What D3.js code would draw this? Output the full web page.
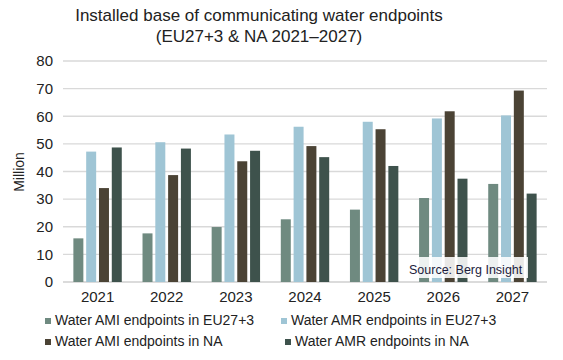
<!DOCTYPE html>
<html><head><meta charset="utf-8">
<script src="https://cdn.jsdelivr.net/npm/d3@7"></script>
<style>body{margin:0;background:#fff}svg{display:block}</style>
</head><body>
<svg id="c" width="563" height="360"></svg>
<script>
const years = ["2021","2022","2023","2024","2025","2026","2027"];
const seriesNames = ["Water AMI endpoints in EU27+3","Water AMR endpoints in EU27+3","Water AMI endpoints in NA","Water AMR endpoints in NA"];
const amiEU = [15.8, 17.6, 19.9, 22.7, 26.2, 30.4, 35.5];
const amrEU = [47.2, 50.6, 53.4, 56.2, 58.0, 59.2, 60.3];
const amiNA = [34.0, 38.7, 43.7, 49.2, 55.3, 61.8, 69.3];
const amrNA = [48.7, 48.3, 47.5, 45.2, 42.0, 37.4, 32.0];
const yTicks = [0,10,20,30,40,50,60,70,80];
const colors = ["#6f8a80","#9fc5d5","#4b4335","#3e524c"];
const seriesData = [amiEU, amrEU, amiNA, amrNA];

const font = "'Liberation Sans', Arial, sans-serif";
const svg = d3.select("#c");
const m = {l:63, r:547, t:61, b:282};
const x = d3.scaleBand().domain(years).range([m.l, m.r]).paddingInner(0.3).paddingOuter(0.15);
const xs = d3.scaleBand().domain(d3.range(4)).range([0, x.bandwidth()]).paddingInner(0.22);
const y = d3.scaleLinear().domain([0,80]).range([m.b, m.t]);

// title
const title = svg.append("text").attr("x", 259).attr("text-anchor","middle")
  .attr("font-family", font).attr("font-size", 17).attr("fill","#222");
title.append("tspan").attr("x",259).attr("y",21).text("Installed base of communicating water endpoints");
title.append("tspan").attr("x",259).attr("y",42).text("(EU27+3 & NA 2021\u20132027)");

// grid
svg.append("g").selectAll("line").data(yTicks).join("line")
  .attr("x1", m.l).attr("x2", m.r).attr("y1", d=>y(d)).attr("y2", d=>y(d))
  .attr("stroke", d=> d===0 ? "#cfcfcf" : "#d9d9d9").attr("stroke-width", 1.3);

// y axis labels
const ya = svg.append("g").attr("transform",`translate(${m.l-10},0)`)
  .call(d3.axisLeft(y).tickValues(yTicks).tickSize(0).tickPadding(0));
ya.select(".domain").remove();
ya.selectAll("text").attr("font-family", font).attr("font-size", 15).attr("fill","#222");

svg.append("text").attr("transform", "translate(24,172) rotate(-90)")
  .attr("text-anchor","middle").attr("font-family", font).attr("font-size", 14).attr("fill","#222").text("Million");

// bars
const g = svg.append("g");
seriesData.forEach((arr, si) => {
  g.append("g").selectAll("rect").data(arr).join("rect")
    .attr("x", (d,i)=> x(years[i]) + xs(si))
    .attr("width", xs.bandwidth())
    .attr("y", d=>y(d)).attr("height", d=> y(0)-y(d))
    .attr("fill", colors[si]);
});

// x axis labels
const xa = svg.append("g").attr("transform",`translate(0,${m.b+6})`)
  .call(d3.axisBottom(x).tickSize(0).tickPadding(0));
xa.select(".domain").remove();
xa.selectAll("text").attr("font-family", font).attr("font-size", 15).attr("fill","#222").attr("dy","0.9em");

// source box
svg.append("rect").attr("x",407).attr("y",257).attr("width",121).attr("height",21).attr("fill","#fff").attr("opacity",0.88);
svg.append("text").attr("x",409).attr("y",274).attr("font-family", font).attr("font-size",12.5).attr("fill","#1c1c3c").text("Source: Berg Insight");

// legend
const legPos = [[45,320],[281,320],[45,341],[285,341]];
const leg = svg.append("g").selectAll("g").data(seriesNames).join("g")
  .attr("transform",(d,i)=>`translate(${legPos[i][0]},${legPos[i][1]})`);
leg.append("rect").attr("x",0).attr("y",-2).attr("width",6).attr("height",6).attr("fill",(d,i)=>colors[i]);
leg.append("text").attr("x",10).attr("y",0).attr("dy","0.35em").attr("font-family", font).attr("font-size",14).attr("fill","#222").text(d=>d);
</script>
</body></html>
